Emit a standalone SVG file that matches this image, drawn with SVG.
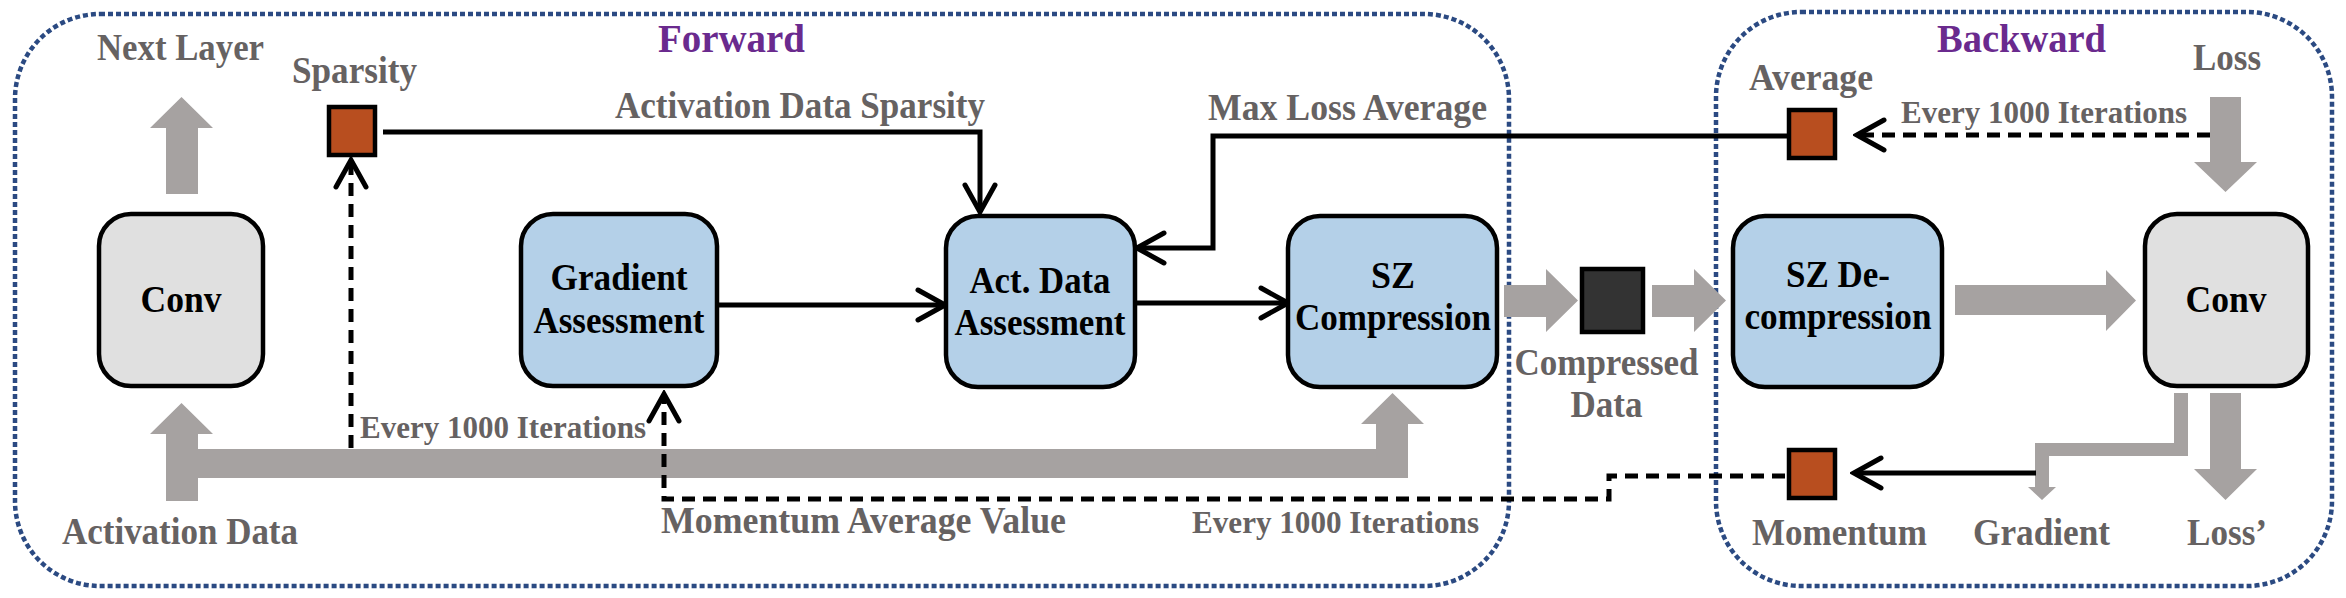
<svg xmlns="http://www.w3.org/2000/svg" width="2346" height="598" viewBox="0 0 2346 598">
<style>
.lbl{font-family:"Liberation Serif","Times New Roman",serif;font-weight:bold;font-size:37px;fill:#666262}
.it{font-size:32px}
.ttl{font-family:"Liberation Serif","Times New Roman",serif;font-weight:bold;font-size:39px;fill:#6a2a8e}
.nt{font-family:"Liberation Serif","Times New Roman",serif;font-weight:bold;font-size:37px;fill:#000;text-anchor:middle}
.box{stroke:#000;stroke-width:4.5}
.blue{fill:#b4d0e8}
.grey{fill:#e0e0e0}
.sq{fill:#b84e1f;stroke:#000;stroke-width:4.5}
.cont{fill:none;stroke:#2b4a82;stroke-width:4.5;stroke-dasharray:5 3}
.ga{fill:#a6a2a1}
.ln{fill:none;stroke:#000;stroke-width:5}
.dash{stroke-dasharray:13 8}
.chev{fill:none;stroke:#000;stroke-width:5;stroke-linejoin:miter;stroke-linecap:round}
</style>
<defs>
<marker id="chev" markerUnits="userSpaceOnUse" viewBox="-32 -18 36 36" markerWidth="36" markerHeight="36" refX="0" refY="0" orient="auto">
<path class="chev" d="M-27,-15 L0,0 L-27,15"/>
</marker>
</defs>

<!-- containers -->
<g id="forward-region">
<rect class="cont" x="15" y="14" width="1494" height="572" rx="85" ry="85"/>
<text class="ttl" x="658" y="52" textLength="147" lengthAdjust="spacingAndGlyphs">Forward</text>
</g>
<g id="backward-region">
<rect class="cont" x="1716" y="12" width="616" height="574" rx="85" ry="85"/>
<text class="ttl" x="1937" y="52" textLength="169" lengthAdjust="spacingAndGlyphs">Backward</text>
</g>

<!-- gray flow arrows and connectors -->
<g id="connectors">
<polygon class="ga" points="166,194 166,128 150,128 181.5,97 213,128 198,128 198,194"/>
<polygon class="ga" points="166,501 166,434 150,434 181.5,403 213,434 198,434 198,449 1376,449 1376,424 1361,424 1392.5,393 1424,424 1408,424 1408,478 198,478 198,501"/>
<polygon class="ga" points="1504,285 1546,285 1546,269 1578,300.5 1546,332 1546,317 1504,317"/>
<polygon class="ga" points="1652,285 1694,285 1694,269 1726,300.5 1694,332 1694,317 1652,317"/>
<polygon class="ga" points="1955,285 2106,285 2106,270 2136,300.5 2106,331 2106,315 1955,315"/>
<polygon class="ga" points="2210,97 2241,97 2241,162 2257,162 2225.5,192 2194,162 2210,162"/>
<polygon class="ga" points="2210,393 2241,393 2241,469 2257,469 2225.5,500 2194,469 2210,469"/>
<polygon class="ga" points="2174,393 2188,393 2188,456 2049,456 2049,487 2056,487 2042,500 2028,487 2035,487 2035,443 2174,443"/>

<polyline class="ln" points="383,132 980,132 980,212" marker-end="url(#chev)"/>
<polyline class="ln" points="1788,136 1213,136 1213,248 1137,248" marker-end="url(#chev)"/>
<line class="ln" x1="717" y1="305" x2="945" y2="305" marker-end="url(#chev)"/>
<line class="ln" x1="1135" y1="303" x2="1288" y2="303" marker-end="url(#chev)"/>
<line class="ln" x1="2036" y1="473" x2="1854" y2="473" marker-end="url(#chev)"/>
<line class="ln dash" x1="2210" y1="135" x2="1857" y2="135" marker-end="url(#chev)"/>
<line class="ln dash" x1="351" y1="448" x2="351" y2="160" marker-end="url(#chev)"/>
<polyline class="ln dash" points="1785,476 1609,476 1609,499 664,499 664,394" marker-end="url(#chev)"/>

<text class="lbl" x="615" y="118" textLength="370" lengthAdjust="spacingAndGlyphs">Activation Data Sparsity</text>
<text class="lbl" x="1208" y="120" textLength="279" lengthAdjust="spacingAndGlyphs">Max Loss Average</text>
<text class="lbl it" x="360" y="438" textLength="286" lengthAdjust="spacingAndGlyphs">Every 1000 Iterations</text>
<text class="lbl" x="661" y="533" textLength="405" lengthAdjust="spacingAndGlyphs">Momentum Average Value</text>
<text class="lbl it" x="1192" y="533" textLength="287" lengthAdjust="spacingAndGlyphs">Every 1000 Iterations</text>
<text class="lbl it" x="1901" y="123" textLength="286" lengthAdjust="spacingAndGlyphs">Every 1000 Iterations</text>
</g>

<!-- plain labels -->
<g id="label-next-layer"><text class="lbl" x="97" y="60" textLength="167" lengthAdjust="spacingAndGlyphs">Next Layer</text></g>
<g id="label-activation-data"><text class="lbl" x="62" y="544" textLength="236" lengthAdjust="spacingAndGlyphs">Activation Data</text></g>
<g id="label-loss"><text class="lbl" x="2193" y="70" textLength="68" lengthAdjust="spacingAndGlyphs">Loss</text></g>
<g id="label-gradient"><text class="lbl" x="1973" y="545" textLength="137" lengthAdjust="spacingAndGlyphs">Gradient</text></g>
<g id="label-loss-prime"><text class="lbl" x="2187" y="545" textLength="80" lengthAdjust="spacingAndGlyphs">Loss’</text></g>

<!-- nodes -->
<g id="conv-fwd">
<rect class="box grey" x="99" y="214" width="164" height="172" rx="32" ry="32"/>
<text class="nt" x="181" y="312" textLength="81" lengthAdjust="spacingAndGlyphs">Conv</text>
</g>
<g id="gradient-assessment">
<rect class="box blue" x="521" y="214" width="196" height="172" rx="32" ry="32"/>
<text class="nt" x="619" y="290" textLength="137" lengthAdjust="spacingAndGlyphs">Gradient</text>
<text class="nt" x="619" y="333" textLength="171" lengthAdjust="spacingAndGlyphs">Assessment</text>
</g>
<g id="act-data-assessment">
<rect class="box blue" x="946" y="216" width="189" height="171" rx="32" ry="32"/>
<text class="nt" x="1040" y="293" textLength="141" lengthAdjust="spacingAndGlyphs">Act. Data</text>
<text class="nt" x="1040" y="335" textLength="171" lengthAdjust="spacingAndGlyphs">Assessment</text>
</g>
<g id="sz-compression">
<rect class="box blue" x="1288" y="216" width="209" height="171" rx="32" ry="32"/>
<text class="nt" x="1393" y="288" textLength="44" lengthAdjust="spacingAndGlyphs">SZ</text>
<text class="nt" x="1393" y="330" textLength="196" lengthAdjust="spacingAndGlyphs">Compression</text>
</g>
<g id="compressed-data">
<rect x="1582" y="269" width="61" height="63" fill="#333" stroke="#000" stroke-width="4.5"/>
<text class="lbl" x="1606.5" y="375" text-anchor="middle" textLength="184" lengthAdjust="spacingAndGlyphs">Compressed</text>
<text class="lbl" x="1606.5" y="417" text-anchor="middle" textLength="72" lengthAdjust="spacingAndGlyphs">Data</text>
</g>
<g id="sz-decompression">
<rect class="box blue" x="1733" y="216" width="209" height="171" rx="32" ry="32"/>
<text class="nt" x="1838" y="287" textLength="104" lengthAdjust="spacingAndGlyphs">SZ De-</text>
<text class="nt" x="1838" y="329" textLength="187" lengthAdjust="spacingAndGlyphs">compression</text>
</g>
<g id="conv-bwd">
<rect class="box grey" x="2145" y="214" width="163" height="172" rx="32" ry="32"/>
<text class="nt" x="2226" y="312" textLength="81" lengthAdjust="spacingAndGlyphs">Conv</text>
</g>
<g id="sparsity">
<rect class="sq" x="329" y="107" width="46" height="48"/>
<text class="lbl" x="292" y="83" textLength="125" lengthAdjust="spacingAndGlyphs">Sparsity</text>
</g>
<g id="average">
<rect class="sq" x="1789" y="110" width="46" height="48"/>
<text class="lbl" x="1749" y="90" textLength="124" lengthAdjust="spacingAndGlyphs">Average</text>
</g>
<g id="momentum">
<rect class="sq" x="1789" y="450" width="46" height="48"/>
<text class="lbl" x="1752" y="545" textLength="175" lengthAdjust="spacingAndGlyphs">Momentum</text>
</g>
</svg>
